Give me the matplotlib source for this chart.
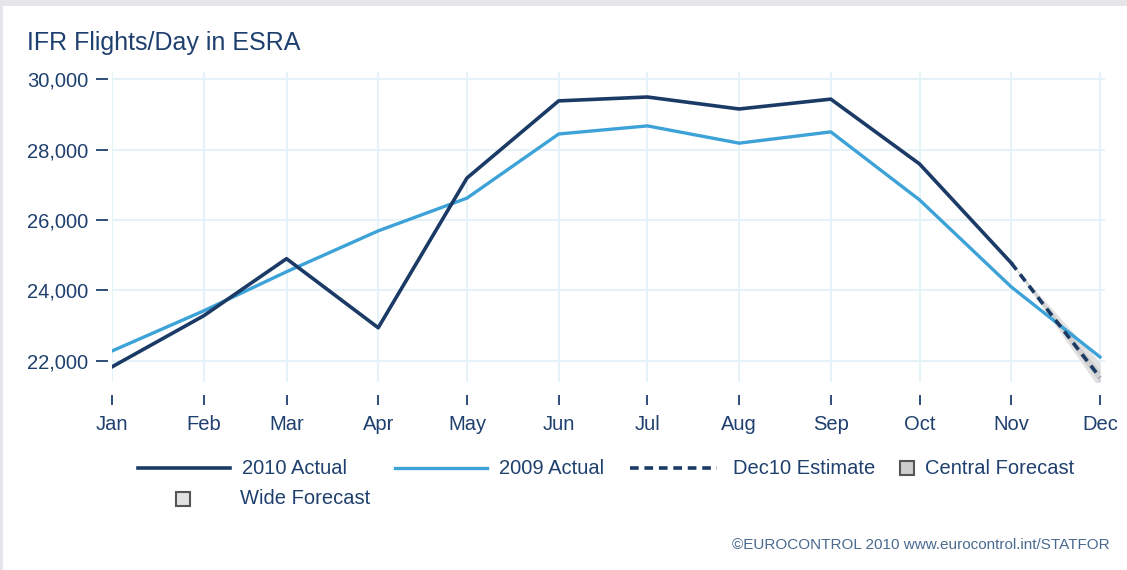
import matplotlib.pyplot as plt
from matplotlib.lines import Line2D
from matplotlib.patches import Rectangle
import pandas as pd

plt.rcParams['font.family'] = ['Liberation Sans', 'DejaVu Sans']

months = ['Jan', 'Feb', 'Mar', 'Apr', 'May', 'Jun', 'Jul', 'Aug', 'Sep', 'Oct', 'Nov', 'Dec']
dates = pd.date_range('2010-01-01', periods=12, freq='MS')

# IFR flights per day
actual_2010 = [21830, 23280, 24900, 22940, 27190, 29380, 29490, 29150, 29430, 27590, 24780]
actual_2009 = [22280, 23420, 24530, 25690, 26620, 28440, 28670, 28180, 28500, 26570, 24100, 22110]
dec_estimate = [24780, 21530]
central_low = [24780, 21370]
central_high = [24780, 21720]
wide_low = [24780, 21200]
wide_high = [24780, 21950]

navy = '#1b3b66'
light = '#3da2d8'
txt = '#1f406e'
grid_c = '#e3f2f9'

fig = plt.figure(figsize=(11.27, 5.70), dpi=100)
W, H = 1127, 570
ax = fig.add_axes([112 / W, 1 - 382 / H, (1105 - 112) / W, (382 - 72) / H])

ax.fill_between(dates[10:], wide_low, wide_high, color='#e2e2e2', lw=0, zorder=1)
ax.fill_between(dates[10:], central_low, central_high, color='#cfcfcf', lw=0, zorder=1)
ax.plot(dates, actual_2009, color=light, lw=2.4, zorder=3)
ax.plot(dates[:11], actual_2010, color=navy, lw=2.6, zorder=4)
ax.plot(dates[10:], dec_estimate, color=navy, lw=2.6, ls=(0, (2.4, 1.6)), zorder=4)

ax.set_xlim(dates[0], dates[-1] + pd.Timedelta(days=1.7))
ax.set_ylim(21400, 30200)
ax.set_xticks(dates)
ax.set_xticklabels(months)
ax.set_yticks(range(22000, 30001, 2000))
ax.yaxis.set_major_formatter(plt.FuncFormatter(lambda v, p: f'{int(v):,}'))

for s in ['top', 'right']:
    ax.spines[s].set_visible(False)
ax.spines['bottom'].set_position(('outward', 9.4))
ax.spines['left'].set_position(('outward', 3))
ax.spines['bottom'].set_color('none')
ax.spines['left'].set_color('none')
ax.tick_params(axis='x', length=7.2, width=1.3, color=txt, labelcolor=txt, labelsize=14.5, pad=7)
ax.tick_params(axis='y', length=8.6, width=1.3, color=txt, labelcolor=txt, labelsize=14.5, pad=5.5)
ax.grid(True, color=grid_c, lw=1.3)
ax.set_axisbelow(True)

fig.text(27 / W, 1 - 43 / H, 'IFR Flights/Day in ESRA', fontsize=18, color=txt, va='center')

# legend, laid out by hand
def fy(y):
    return 1 - y / H

fig.lines.append(Line2D([138 / W, 230 / W], [fy(468)] * 2, color=navy, lw=2.6, transform=fig.transFigure))
fig.text(242 / W, fy(468), '2010 Actual', fontsize=14.5, color=txt, va='center')
fig.lines.append(Line2D([395 / W, 487 / W], [fy(468)] * 2, color=light, lw=2.4, transform=fig.transFigure))
fig.text(499 / W, fy(468), '2009 Actual', fontsize=14.5, color=txt, va='center')
fig.lines.append(Line2D([630 / W, 717 / W], [fy(468)] * 2, color=navy, lw=2.6, ls=(0, (2.4, 1.6)),
                        transform=fig.transFigure))
fig.text(733 / W, fy(468), 'Dec10 Estimate', fontsize=14.5, color=txt, va='center')
fig.patches.append(Rectangle((900 / W, fy(475)), 14 / W, 14 / H, facecolor='#cfcfcf', edgecolor='#555555',
                             lw=1.5, transform=fig.transFigure))
fig.text(925 / W, fy(468), 'Central Forecast', fontsize=14.5, color=txt, va='center')
fig.patches.append(Rectangle((176 / W, fy(506)), 14 / W, 14 / H, facecolor='#e2e2e2', edgecolor='#555555',
                             lw=1.5, transform=fig.transFigure))
fig.text(240 / W, fy(499), 'Wide Forecast', fontsize=14.5, color=txt, va='center')

fig.text(1110 / W, fy(545), '\u00a9EUROCONTROL 2010 www.eurocontrol.int/STATFOR', fontsize=11,
         color='#4a6a90', ha='right', va='center')

# grey frame at top and left
fig.patches.append(Rectangle((0, 1 - 6 / H), 1, 6 / H, facecolor='#e6e6ea', lw=0, transform=fig.transFigure))
fig.patches.append(Rectangle((0, 0), 3 / W, 1, facecolor='#e6e6ea', lw=0, transform=fig.transFigure))

fig.savefig('out.png', dpi=100)
